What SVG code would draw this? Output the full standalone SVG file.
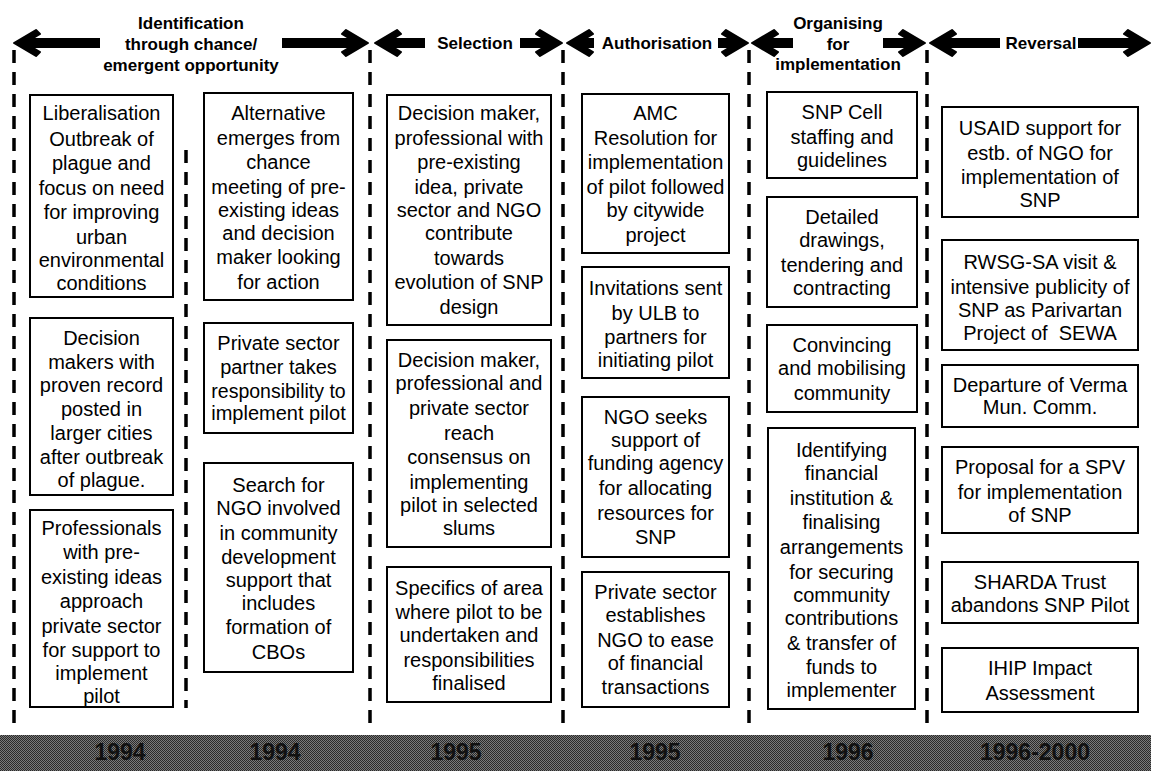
<svg xmlns="http://www.w3.org/2000/svg" width="1151" height="771" viewBox="0 0 1151 771">
<style>
.box{fill:#fff;stroke:#000;stroke-width:2}
.t{font-family:"Liberation Sans",Arial,sans-serif;font-size:20px;fill:#000;text-anchor:middle}
.h{font-family:"Liberation Sans",Arial,sans-serif;font-size:17px;font-weight:bold;fill:#000;text-anchor:middle}
.y{font-family:"Liberation Sans",Arial,sans-serif;font-size:23px;font-weight:bold;fill:#111;text-anchor:middle}
.dash{stroke:#000;stroke-width:3.5;stroke-dasharray:13 9;fill:none}
.shaft{stroke:#000;stroke-width:10;fill:none}
</style>
<defs>
<path id="head" d="M0,0 L-22,-13 L-26,-9 L-16,-3 L-16,3 L-26,9 L-22,13 Z" fill="#000" stroke="#000" stroke-width="2" stroke-linejoin="round"/>
<pattern id="dither" width="2" height="2" patternUnits="userSpaceOnUse">
<rect width="2" height="2" fill="#7a7a7a"/>
<rect width="1" height="1" fill="#2a2a2a"/>
<rect x="1" y="1" width="1" height="1" fill="#2a2a2a"/>
</pattern>
</defs>
<rect width="1151" height="771" fill="#fff"/>

<g id="dividers">
<line class="dash" x1="14" y1="50" x2="14" y2="730"/>
<line class="dash" x1="370" y1="50" x2="370" y2="730"/>
<line class="dash" x1="563" y1="50" x2="563" y2="730"/>
<line class="dash" x1="749" y1="50" x2="749" y2="730"/>
<line class="dash" x1="927" y1="50" x2="927" y2="730"/>
<line class="dash" x1="186" y1="150" x2="186" y2="708"/>
</g>

<g id="connectors">
<line class="shaft" x1="28" y1="43" x2="100" y2="43"/>
<use href="#head" transform="translate(14,43) scale(-1,1)"/>
<line class="shaft" x1="282" y1="43" x2="355" y2="43"/>
<use href="#head" transform="translate(368,43)"/>
<line class="shaft" x1="390" y1="43" x2="425" y2="43"/>
<use href="#head" transform="translate(375,43) scale(-1,1)"/>
<line class="shaft" x1="520" y1="43" x2="550" y2="43"/>
<use href="#head" transform="translate(562,43)"/>
<line class="shaft" x1="581" y1="43" x2="594" y2="43"/>
<use href="#head" transform="translate(567,43) scale(-1,1)"/>
<line class="shaft" x1="718" y1="43" x2="736" y2="43"/>
<use href="#head" transform="translate(748,43)"/>
<line class="shaft" x1="766" y1="43" x2="793" y2="43"/>
<use href="#head" transform="translate(752,43) scale(-1,1)"/>
<line class="shaft" x1="883" y1="43" x2="912" y2="43"/>
<use href="#head" transform="translate(925,43)"/>
<line class="shaft" x1="944" y1="43" x2="1000" y2="43"/>
<use href="#head" transform="translate(930,43) scale(-1,1)"/>
<line class="shaft" x1="1078" y1="43" x2="1137" y2="43"/>
<use href="#head" transform="translate(1150,43)"/>
</g>

<g id="headers">
<text class="h" x="191" y="29">Identification</text>
<text class="h" x="191" y="50">through chance/</text>
<text class="h" x="191" y="71">emergent opportunity</text>
<text class="h" x="475" y="49">Selection</text>
<text class="h" x="657" y="49">Authorisation</text>
<text class="h" x="838" y="29">Organising</text>
<text class="h" x="838" y="50">for</text>
<text class="h" x="838" y="70">implementation</text>
<text class="h" x="1041" y="49">Reversal</text>
</g>

<g id="L1"><rect class="box" x="30" y="95" width="143" height="202"/>
<text class="t" x="101.5"><tspan x="101.5" y="120">Liberalisation</tspan><tspan x="101.5" y="146">Outbreak of</tspan><tspan x="101.5" y="170">plague and</tspan><tspan x="101.5" y="195">focus on need</tspan><tspan x="101.5" y="219">for improving</tspan><tspan x="101.5" y="244">urban</tspan><tspan x="101.5" y="267">environmental</tspan><tspan x="101.5" y="290">conditions</tspan></text></g>

<g id="L2"><rect class="box" x="30" y="318" width="143" height="177"/>
<text class="t" x="101.5"><tspan x="101.5" y="345">Decision</tspan><tspan x="101.5" y="369">makers with</tspan><tspan x="101.5" y="392">proven record</tspan><tspan x="101.5" y="416">posted in</tspan><tspan x="101.5" y="440">larger cities</tspan><tspan x="101.5" y="464">after outbreak</tspan><tspan x="101.5" y="487">of plague.</tspan></text></g>

<g id="L3"><rect class="box" x="30" y="510" width="143" height="197"/>
<text class="t" x="101.5"><tspan x="101.5" y="535">Professionals</tspan><tspan x="101.5" y="559">with pre-</tspan><tspan x="101.5" y="584">existing ideas</tspan><tspan x="101.5" y="608">approach</tspan><tspan x="101.5" y="633">private sector</tspan><tspan x="101.5" y="657">for support to</tspan><tspan x="101.5" y="680">implement</tspan><tspan x="101.5" y="703">pilot</tspan></text></g>

<g id="M1"><rect class="box" x="204" y="93" width="149" height="207"/>
<text class="t" x="278.5"><tspan x="278.5" y="120">Alternative</tspan><tspan x="278.5" y="145">emerges from</tspan><tspan x="278.5" y="169">chance</tspan><tspan x="278.5" y="194">meeting of pre-</tspan><tspan x="278.5" y="217">existing ideas</tspan><tspan x="278.5" y="240">and decision</tspan><tspan x="278.5" y="264">maker looking</tspan><tspan x="278.5" y="289">for action</tspan></text></g>

<g id="M2"><rect class="box" x="204" y="323" width="149" height="110"/>
<text class="t" x="278.5"><tspan x="278.5" y="350">Private sector</tspan><tspan x="278.5" y="374">partner takes</tspan><tspan x="278.5" y="398" style="font-size:19.5px">responsibility to</tspan><tspan x="278.5" y="420">implement pilot</tspan></text></g>

<g id="M3"><rect class="box" x="204" y="463" width="149" height="209"/>
<text class="t" x="278.5"><tspan x="278.5" y="492">Search for</tspan><tspan x="278.5" y="515">NGO involved</tspan><tspan x="278.5" y="540">in community</tspan><tspan x="278.5" y="564">development</tspan><tspan x="278.5" y="587">support that</tspan><tspan x="278.5" y="610">includes</tspan><tspan x="278.5" y="634">formation of</tspan><tspan x="278.5" y="659">CBOs</tspan></text></g>

<g id="S1"><rect class="box" x="387" y="95" width="164" height="230"/>
<text class="t" x="469"><tspan x="469" y="120">Decision maker,</tspan><tspan x="469" y="145">professional with</tspan><tspan x="469" y="169">pre-existing</tspan><tspan x="469" y="194">idea, private</tspan><tspan x="469" y="217">sector and NGO</tspan><tspan x="469" y="240">contribute</tspan><tspan x="469" y="265">towards</tspan><tspan x="469" y="289">evolution of SNP</tspan><tspan x="469" y="314">design</tspan></text></g>

<g id="S2"><rect class="box" x="387" y="340" width="164" height="207"/>
<text class="t" x="469"><tspan x="469" y="367">Decision maker,</tspan><tspan x="469" y="390">professional and</tspan><tspan x="469" y="415">private sector</tspan><tspan x="469" y="440">reach</tspan><tspan x="469" y="464">consensus on</tspan><tspan x="469" y="489">implementing</tspan><tspan x="469" y="512">pilot in selected</tspan><tspan x="469" y="535">slums</tspan></text></g>

<g id="S3"><rect class="box" x="387" y="567" width="164" height="135"/>
<text class="t" x="469"><tspan x="469" y="595">Specifics of area</tspan><tspan x="469" y="619">where pilot to be</tspan><tspan x="469" y="642">undertaken and</tspan><tspan x="469" y="667">responsibilities</tspan><tspan x="469" y="690">finalised</tspan></text></g>

<g id="A1"><rect class="box" x="582" y="94" width="147" height="159"/>
<text class="t" x="655.5"><tspan x="655.5" y="120">AMC</tspan><tspan x="655.5" y="145">Resolution for</tspan><tspan x="655.5" y="169">implementation</tspan><tspan x="655.5" y="194">of pilot followed</tspan><tspan x="655.5" y="217">by citywide</tspan><tspan x="655.5" y="242">project</tspan></text></g>

<g id="A2"><rect class="box" x="582" y="267" width="147" height="111"/>
<text class="t" x="655.5"><tspan x="655.5" y="295">Invitations sent</tspan><tspan x="655.5" y="320">by ULB to</tspan><tspan x="655.5" y="344">partners for</tspan><tspan x="655.5" y="367">initiating pilot</tspan></text></g>

<g id="A3"><rect class="box" x="582" y="397" width="147" height="160"/>
<text class="t" x="655.5"><tspan x="655.5" y="424">NGO seeks</tspan><tspan x="655.5" y="447">support of</tspan><tspan x="655.5" y="470">funding agency</tspan><tspan x="655.5" y="495">for allocating</tspan><tspan x="655.5" y="520">resources for</tspan><tspan x="655.5" y="544">SNP</tspan></text></g>

<g id="A4"><rect class="box" x="582" y="572" width="147" height="135"/>
<text class="t" x="655.5"><tspan x="655.5" y="599">Private sector</tspan><tspan x="655.5" y="622">establishes</tspan><tspan x="655.5" y="647">NGO to ease</tspan><tspan x="655.5" y="670">of financial</tspan><tspan x="655.5" y="694">transactions</tspan></text></g>

<g id="O1"><rect class="box" x="767" y="92" width="150" height="86"/>
<text class="t" x="842"><tspan x="842" y="119">SNP Cell</tspan><tspan x="842" y="144">staffing and</tspan><tspan x="842" y="167">guidelines</tspan></text></g>

<g id="O2"><rect class="box" x="767" y="197" width="150" height="110"/>
<text class="t" x="842"><tspan x="842" y="224">Detailed</tspan><tspan x="842" y="247">drawings,</tspan><tspan x="842" y="272">tendering and</tspan><tspan x="842" y="295">contracting</tspan></text></g>

<g id="O3"><rect class="box" x="767" y="325" width="150" height="87"/>
<text class="t" x="842"><tspan x="842" y="352">Convincing</tspan><tspan x="842" y="375">and mobilising</tspan><tspan x="842" y="400">community</tspan></text></g>

<g id="O4"><rect class="box" x="768" y="428" width="147" height="281"/>
<text class="t" x="841.5"><tspan x="841.5" y="457">Identifying</tspan><tspan x="841.5" y="480">financial</tspan><tspan x="841.5" y="505">institution &amp;</tspan><tspan x="841.5" y="529">finalising</tspan><tspan x="841.5" y="554">arrangements</tspan><tspan x="841.5" y="579">for securing</tspan><tspan x="841.5" y="602">community</tspan><tspan x="841.5" y="625">contributions</tspan><tspan x="841.5" y="650">&amp; transfer of</tspan><tspan x="841.5" y="674">funds to</tspan><tspan x="841.5" y="697">implementer</tspan></text></g>

<g id="R1"><rect class="box" x="942" y="107" width="196" height="110"/>
<text class="t" x="1040"><tspan x="1040" y="135">USAID support for</tspan><tspan x="1040" y="160">estb. of NGO for</tspan><tspan x="1040" y="184">implementation of</tspan><tspan x="1040" y="207">SNP</tspan></text></g>

<g id="R2"><rect class="box" x="942" y="240" width="196" height="110"/>
<text class="t" x="1040"><tspan x="1040" y="269">RWSG-SA visit &amp;</tspan><tspan x="1040" y="294">intensive publicity of</tspan><tspan x="1040" y="317">SNP as Parivartan</tspan><tspan x="1040" y="340" xml:space="preserve">Project of  SEWA</tspan></text></g>

<g id="R3"><rect class="box" x="942" y="365" width="196" height="62"/>
<text class="t" x="1040"><tspan x="1040" y="392">Departure of Verma</tspan><tspan x="1040" y="414">Mun. Comm.</tspan></text></g>

<g id="R4"><rect class="box" x="942" y="447" width="196" height="86"/>
<text class="t" x="1040"><tspan x="1040" y="474">Proposal for a SPV</tspan><tspan x="1040" y="499">for implementation</tspan><tspan x="1040" y="522">of SNP</tspan></text></g>

<g id="R5"><rect class="box" x="942" y="562" width="196" height="61"/>
<text class="t" x="1040"><tspan x="1040" y="589">SHARDA Trust</tspan><tspan x="1040" y="612">abandons SNP Pilot</tspan></text></g>

<g id="R6"><rect class="box" x="942" y="648" width="196" height="64"/>
<text class="t" x="1040"><tspan x="1040" y="675">IHIP Impact</tspan><tspan x="1040" y="700">Assessment</tspan></text></g>

<g id="timeline">
<rect x="0" y="735" width="1151" height="36" fill="url(#dither)"/>
<text class="y" x="120" y="760">1994</text>
<text class="y" x="275" y="760">1994</text>
<text class="y" x="456" y="760">1995</text>
<text class="y" x="655" y="760">1995</text>
<text class="y" x="848" y="760">1996</text>
<text class="y" x="1035" y="760">1996-2000</text>
</g>
</svg>
